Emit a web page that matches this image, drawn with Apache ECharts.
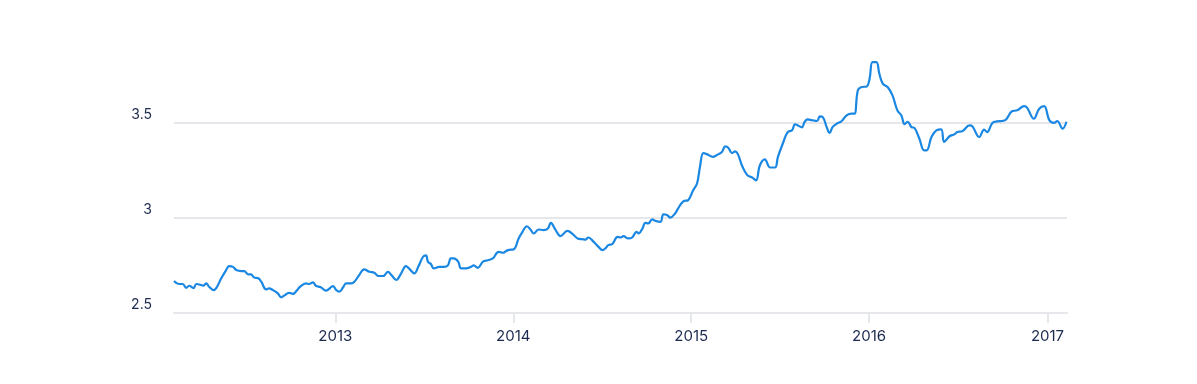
<!DOCTYPE html>
<html>
<head>
<meta charset="utf-8">
<script src="https://cdn.jsdelivr.net/npm/echarts@6/dist/echarts.min.js"></script>
<style>
  html, body { margin: 0; padding: 0; background: #ffffff; }
  #chart { width: 1197px; height: 384px; }
</style>
</head>
<body>
<div id="chart"></div>
<script>
const dates = [
  "2012-02-05","2012-02-15","2012-02-23","2012-03-01","2012-03-07","2012-03-16","2012-03-22","2012-04-01","2012-04-05","2012-04-11",
  "2012-04-17","2012-04-26","2012-05-02","2012-05-12","2012-05-22","2012-05-28","2012-06-05","2012-06-12","2012-06-22","2012-06-28",
  "2012-07-06","2012-07-12","2012-07-18","2012-07-27","2012-08-02","2012-08-12","2012-08-18","2012-08-26","2012-09-05","2012-09-12",
  "2012-09-18","2012-09-28","2012-10-06","2012-10-12","2012-10-22","2012-11-02","2012-11-08","2012-11-16","2012-11-22","2012-12-02",
  "2012-12-13","2012-12-19","2012-12-27","2013-01-03","2013-01-09","2013-01-17","2013-01-23","2013-02-03","2013-02-09","2013-02-19",
  "2013-03-01","2013-03-12","2013-03-22","2013-03-30","2013-04-09","2013-04-19","2013-04-26","2013-05-06","2013-05-16","2013-05-26",
  "2013-06-01","2013-06-12","2013-06-20","2013-06-30","2013-07-06","2013-07-10","2013-07-16","2013-07-22","2013-08-02","2013-08-12",
  "2013-08-20","2013-08-26","2013-09-01","2013-09-10","2013-09-16","2013-09-26","2013-10-06","2013-10-12","2013-10-20","2013-10-31",
  "2013-11-10","2013-11-20","2013-12-02","2013-12-11","2013-12-21","2014-01-02","2014-01-12","2014-01-20","2014-01-29","2014-02-06",
  "2014-02-12","2014-02-22","2014-03-04","2014-03-13","2014-03-19","2014-03-29","2014-04-08","2014-04-22","2014-05-03","2014-05-13",
  "2014-05-23","2014-05-29","2014-06-04","2014-06-15","2014-06-25","2014-07-03","2014-07-09","2014-07-15","2014-07-23","2014-08-03",
  "2014-08-09","2014-08-15","2014-08-25","2014-09-02","2014-09-11","2014-09-15","2014-09-23","2014-09-29","2014-10-05","2014-10-13",
  "2014-10-19","2014-10-30","2014-11-05","2014-11-13","2014-11-19","2014-11-29","2014-12-05","2014-12-16","2014-12-26","2015-01-05",
  "2015-01-13","2015-01-19","2015-01-26","2015-02-03","2015-02-09","2015-02-15","2015-02-25","2015-03-05","2015-03-12","2015-03-18",
  "2015-03-26","2015-04-01","2015-04-07","2015-04-15","2015-04-26","2015-05-06","2015-05-14","2015-05-22","2015-06-01","2015-06-12",
  "2015-06-22","2015-06-28","2015-07-08","2015-07-18","2015-07-27","2015-08-02","2015-08-08","2015-08-16","2015-08-22","2015-08-28",
  "2015-09-05","2015-09-16","2015-09-22","2015-09-28","2015-10-06","2015-10-12","2015-10-18","2015-10-27","2015-11-06","2015-11-16",
  "2015-11-26","2015-12-02","2015-12-09","2015-12-17","2015-12-27","2016-01-02","2016-01-08","2016-01-16","2016-01-22","2016-01-29",
  "2016-02-08","2016-02-18","2016-02-28","2016-03-07","2016-03-14","2016-03-20","2016-03-28","2016-04-03","2016-04-13","2016-04-23",
  "2016-04-28","2016-05-08","2016-05-18","2016-05-28","2016-06-03","2016-06-14","2016-06-24","2016-06-30","2016-07-10","2016-07-25",
  "2016-07-31","2016-08-14","2016-08-24","2016-08-30","2016-09-10","2016-09-20","2016-09-30","2016-10-08","2016-10-20","2016-10-31",
  "2016-11-14","2016-11-20","2016-12-04","2016-12-15","2016-12-25","2017-01-05","2017-01-15","2017-01-21","2017-02-01","2017-02-09"
];
const values = [
  2.668,2.652,2.652,2.632,2.643,2.631,2.652,2.647,2.643,2.655,
  2.638,2.620,2.632,2.682,2.725,2.746,2.742,2.725,2.720,2.720,
  2.703,2.703,2.687,2.682,2.664,2.624,2.629,2.620,2.603,2.582,
  2.591,2.606,2.600,2.612,2.641,2.655,2.652,2.661,2.643,2.635,
  2.617,2.626,2.641,2.620,2.612,2.635,2.655,2.655,2.664,2.699,
  2.729,2.716,2.711,2.694,2.694,2.716,2.699,2.673,2.708,2.746,
  2.734,2.708,2.742,2.795,2.802,2.769,2.757,2.734,2.742,2.742,
  2.750,2.786,2.786,2.769,2.734,2.734,2.742,2.750,2.737,2.769,
  2.777,2.786,2.821,2.816,2.830,2.834,2.891,2.926,2.955,2.935,
  2.917,2.938,2.935,2.943,2.973,2.935,2.903,2.931,2.914,2.891,
  2.887,2.885,2.896,2.873,2.847,2.830,2.839,2.856,2.861,2.899,
  2.896,2.903,2.891,2.896,2.926,2.917,2.943,2.973,2.970,2.991,
  2.984,2.978,3.018,3.013,3.000,3.022,3.048,3.086,3.092,3.144,
  3.179,3.266,3.339,3.332,3.324,3.319,3.332,3.344,3.374,3.367,
  3.339,3.348,3.332,3.275,3.223,3.211,3.196,3.275,3.306,3.263,
  3.263,3.319,3.389,3.449,3.458,3.490,3.484,3.474,3.503,3.515,
  3.512,3.507,3.531,3.527,3.475,3.444,3.475,3.493,3.507,3.537,
  3.546,3.546,3.668,3.685,3.688,3.729,3.816,3.816,3.755,3.703,
  3.685,3.641,3.563,3.537,3.490,3.503,3.475,3.471,3.415,3.353,
  3.353,3.423,3.458,3.463,3.397,3.427,3.437,3.449,3.453,3.484,
  3.479,3.423,3.462,3.449,3.497,3.505,3.507,3.515,3.558,3.563,
  3.585,3.577,3.519,3.571,3.585,3.510,3.497,3.507,3.467,3.503
];
const yTicks = [2.5, 3, 3.5];
const xStart = "2012-02-05";
const xEnd = "2017-02-10";

const seriesData = dates.map((d, i) => [d, values[i]]);
const gridColor = '#e6e7eb';
const textColor = '#1c2a50';
const fontFamily = 'Inter, "Open Sans", sans-serif';

const chart = echarts.init(document.getElementById('chart'), null, { renderer: 'canvas' });
chart.setOption({
  animation: false,
  backgroundColor: '#ffffff',
  grid: { left: 174, right: 130, top: 27, bottom: 71, containLabel: false, outerBoundsMode: 'none' },
  xAxis: {
    type: 'time',
    min: xStart,
    max: xEnd,
    minInterval: 365 * 24 * 3600 * 1000,
    splitLine: { show: false },
    axisLine: { show: true, lineStyle: { color: gridColor, width: 2 } },
    axisTick: { show: true, length: 10, lineStyle: { color: gridColor, width: 2 } },
    axisLabel: {
      color: textColor, fontSize: 15, fontFamily: fontFamily, margin: 16,
      formatter: '{yyyy}', showMinLabel: false, showMaxLabel: false
    }
  },
  yAxis: {
    type: 'value',
    min: 2.5,
    max: 4,
    interval: 0.5,
    axisLine: { show: false },
    axisTick: { show: false },
    splitLine: { show: true, showMaxLine: false, lineStyle: { color: gridColor, width: 2 } },
    axisLabel: {
      color: textColor, fontSize: 14, fontFamily: fontFamily, margin: 22,
      verticalAlign: 'bottom', lineHeight: 16,
      showMaxLabel: false,
      formatter: v => (yTicks.indexOf(v) >= 0 ? String(v) : '')
    }
  },
  series: [{
    type: 'line',
    data: seriesData,
    smooth: 0.4,
    showSymbol: false,
    lineStyle: { color: '#1a87e2', width: 2.2 },
    itemStyle: { color: '#1a87e2' }
  }]
});
</script>
</body>
</html>
